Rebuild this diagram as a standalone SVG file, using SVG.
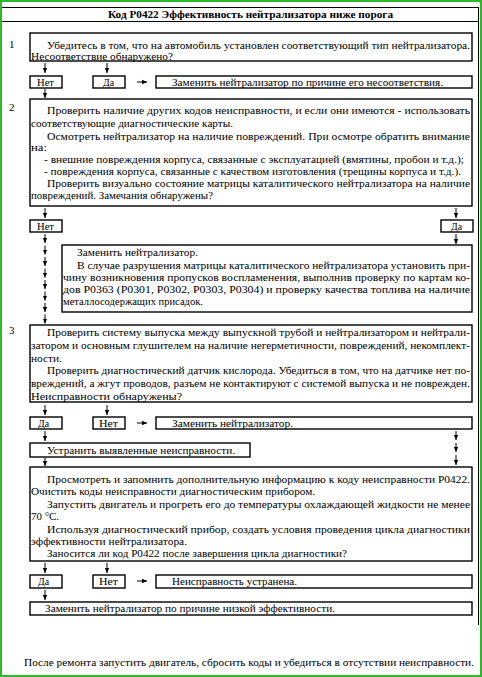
<svg xmlns="http://www.w3.org/2000/svg" width="482" height="677" viewBox="0 0 482 677">
<style>
text{font-family:"Liberation Serif","Times New Roman",serif;font-size:11px;fill:#000}
.b{font-weight:bold}
.box{fill:#fff;stroke:#000;stroke-width:1.4}
.ar{stroke:#000;stroke-width:1;fill:none;marker-end:url(#ah)}
.fr{stroke:#000;stroke-width:1;fill:none}
</style>
<defs>
<marker id="ah" markerWidth="6" markerHeight="6" refX="5" refY="3" orient="auto" markerUnits="userSpaceOnUse">
<path d="M0,0.8 L5,3 L0,5.2 Z" fill="#000"/>
</marker>
</defs>
<rect x="0" y="0" width="482" height="677" fill="#fff"/>
<g id="frame">
<rect x="1" y="1" width="480" height="675" fill="none" stroke="#2eb82e" stroke-width="2"/>
<line class="fr" x1="2" y1="7.5" x2="478" y2="7.5"/>
<line class="fr" x1="2" y1="21.5" x2="478" y2="21.5"/>
<line class="fr" x1="478.5" y1="7" x2="478.5" y2="625"/>
<text class="b" x="108" y="18" textLength="285" lengthAdjust="spacingAndGlyphs">Код P0422 Эффективность нейтрализатора ниже порога</text>
<text x="9" y="48">1</text>
<text x="9" y="111">2</text>
<text x="9" y="334">3</text>
</g>
<g id="connectors">
<line class="ar" x1="45" y1="63" x2="45" y2="73"/>
<line class="ar" x1="107" y1="63" x2="107" y2="73"/>
<line class="ar" x1="137" y1="82" x2="147" y2="82"/>
<line class="ar" x1="45" y1="89" x2="45" y2="98"/>
<line class="ar" x1="45" y1="208" x2="45" y2="218"/>
<line class="ar" x1="456" y1="208" x2="456" y2="218"/>
<line class="ar" x1="456" y1="234" x2="456" y2="244"/>
<line class="ar" x1="45" y1="234" x2="45" y2="243"/>
<line class="ar" x1="45" y1="245.5" x2="45" y2="254.5"/>
<line class="ar" x1="45" y1="257" x2="45" y2="266"/>
<line class="ar" x1="45" y1="268.5" x2="45" y2="277.5"/>
<line class="ar" x1="45" y1="280" x2="45" y2="289"/>
<line class="ar" x1="45" y1="291.5" x2="45" y2="300.5"/>
<line class="ar" x1="45" y1="303" x2="45" y2="312"/>
<line class="ar" x1="45" y1="314.5" x2="45" y2="323.5"/>
<line class="ar" x1="45" y1="405" x2="45" y2="415"/>
<line class="ar" x1="107" y1="405" x2="107" y2="415"/>
<line class="ar" x1="137" y1="423" x2="147" y2="423"/>
<line class="ar" x1="45" y1="431" x2="45" y2="441"/>
<line class="ar" x1="456" y1="431" x2="456" y2="440"/>
<line class="ar" x1="456" y1="443" x2="456" y2="452"/>
<line class="ar" x1="456" y1="455" x2="456" y2="465"/>
<line class="ar" x1="45" y1="458" x2="45" y2="466"/>
<line class="ar" x1="45" y1="563" x2="45" y2="573"/>
<line class="ar" x1="107" y1="563" x2="107" y2="573"/>
<line class="ar" x1="137" y1="581" x2="147" y2="581"/>
<line class="ar" x1="45" y1="590" x2="45" y2="600"/>
</g>
<g id="step1">
<rect class="box" x="30" y="33" width="442" height="28"/>
<text x="47" y="49" textLength="423" lengthAdjust="spacingAndGlyphs">Убедитесь в том, что на автомобиль установлен соответствующий тип нейтрализатора.</text>
<text x="31" y="59.5" textLength="142" lengthAdjust="spacingAndGlyphs">Несоответствие обнаружено?</text>
</g>
<g id="s1-no"><rect class="box" x="30" y="76" width="32" height="12"/><text x="37" y="85.5" textLength="17" lengthAdjust="spacingAndGlyphs">Нет</text></g>
<g id="s1-yes"><rect class="box" x="93" y="76" width="32" height="12"/><text x="103" y="85.5" textLength="11" lengthAdjust="spacingAndGlyphs">Да</text></g>
<g id="s1-replace"><rect class="box" x="156" y="76" width="316" height="12"/><text x="172" y="85.5" textLength="271" lengthAdjust="spacingAndGlyphs">Заменить нейтрализатор по причине его несоответствия.</text></g>
<g id="step2">
<rect class="box" x="30" y="99" width="442" height="107"/>
<text x="47" y="114" textLength="423" lengthAdjust="spacingAndGlyphs">Проверить наличие других кодов неисправности, и если они имеются - использовать</text>
<text x="31" y="127" textLength="202" lengthAdjust="spacingAndGlyphs">соответствующие диагностические карты.</text>
<text x="47" y="139.5" textLength="423" lengthAdjust="spacingAndGlyphs">Осмотреть нейтрализатор на наличие повреждений. При осмотре обратить внимание</text>
<text x="31" y="151" textLength="16" lengthAdjust="spacingAndGlyphs">на:</text>
<text x="44" y="163" textLength="420" lengthAdjust="spacingAndGlyphs">- внешние повреждения корпуса, связанные с эксплуатацией (вмятины, пробои и т.д.);</text>
<text x="44" y="175" textLength="417" lengthAdjust="spacingAndGlyphs">- повреждения корпуса, связанные с качеством изготовления (трещины корпуса и т.д.).</text>
<text x="47" y="187" textLength="423" lengthAdjust="spacingAndGlyphs">Проверить визуально состояние матрицы каталитического нейтрализатора на наличие</text>
<text x="31" y="198.5" textLength="182" lengthAdjust="spacingAndGlyphs">повреждений. Замечания обнаружены?</text>
</g>
<g id="s2-no"><rect class="box" x="30" y="220" width="32" height="12"/><text x="37" y="229.5" textLength="17" lengthAdjust="spacingAndGlyphs">Нет</text></g>
<g id="s2-yes"><rect class="box" x="441" y="220" width="32" height="12"/><text x="451" y="229.5" textLength="11" lengthAdjust="spacingAndGlyphs">Да</text></g>
<g id="s2-replace">
<rect class="box" x="62" y="245" width="410" height="67"/>
<text x="77" y="255.5" textLength="121" lengthAdjust="spacingAndGlyphs">Заменить нейтрализатор.</text>
<text x="77" y="269" textLength="393" lengthAdjust="spacingAndGlyphs">В случае разрушения матрицы каталитического нейтрализатора установить при-</text>
<text x="63" y="281" textLength="407" lengthAdjust="spacingAndGlyphs">чину возникновения пропусков воспламенения, выполнив проверку по картам ко-</text>
<text x="63" y="292.5" textLength="407" lengthAdjust="spacingAndGlyphs">дов P0363 (P0301, P0302, P0303, P0304) и проверку качества топлива на наличие</text>
<text x="63" y="304.5" textLength="140" lengthAdjust="spacingAndGlyphs">металлосодержащих присадок.</text>
</g>
<g id="step3">
<rect class="box" x="30" y="325" width="442" height="77"/>
<text x="47" y="336" textLength="423" lengthAdjust="spacingAndGlyphs">Проверить систему выпуска между выпускной трубой и нейтрализатором и нейтрали-</text>
<text x="31" y="349" textLength="439" lengthAdjust="spacingAndGlyphs">затором и основным глушителем на наличие негерметичности, повреждений, некомплект-</text>
<text x="31" y="361.5" textLength="31" lengthAdjust="spacingAndGlyphs">ности.</text>
<text x="47" y="374" textLength="423" lengthAdjust="spacingAndGlyphs">Проверить диагностический датчик кислорода. Убедиться в том, что на датчике нет по-</text>
<text x="31" y="387" textLength="439" lengthAdjust="spacingAndGlyphs">вреждений, а жгут проводов, разъем не контактируют с системой выпуска и не поврежден.</text>
<text x="31" y="399.5" textLength="151" lengthAdjust="spacingAndGlyphs">Неисправности обнаружены?</text>
</g>
<g id="s3-yes"><rect class="box" x="30" y="417" width="32" height="12"/><text x="38" y="426.5" textLength="11" lengthAdjust="spacingAndGlyphs">Да</text></g>
<g id="s3-no"><rect class="box" x="93" y="417" width="32" height="12"/><text x="99" y="426.5" textLength="19" lengthAdjust="spacingAndGlyphs">Нет</text></g>
<g id="s3-replace"><rect class="box" x="156" y="417" width="316" height="12"/><text x="172" y="426.5" textLength="121" lengthAdjust="spacingAndGlyphs">Заменить нейтрализатор.</text></g>
<g id="s3-fix"><rect class="box" x="30" y="443" width="220" height="14"/><text x="47" y="453.5" textLength="188" lengthAdjust="spacingAndGlyphs">Устранить выявленные неисправности.</text></g>
<g id="step4">
<rect class="box" x="30" y="467" width="442" height="94"/>
<text x="47" y="483" textLength="423" lengthAdjust="spacingAndGlyphs">Просмотреть и запомнить дополнительную информацию к коду неисправности P0422.</text>
<text x="31" y="495" textLength="284" lengthAdjust="spacingAndGlyphs">Очистить коды неисправности диагностическим прибором.</text>
<text x="47" y="508" textLength="423" lengthAdjust="spacingAndGlyphs">Запустить двигатель и прогреть его до температуры охлаждающей жидкости не менее</text>
<text x="31" y="520" textLength="28" lengthAdjust="spacingAndGlyphs">70 °C.</text>
<text x="47" y="532.5" textLength="423" lengthAdjust="spacingAndGlyphs">Используя диагностический прибор, создать условия проведения цикла диагностики</text>
<text x="31" y="545" textLength="156" lengthAdjust="spacingAndGlyphs">эффективности нейтрализатора.</text>
<text x="47" y="556.5" textLength="300" lengthAdjust="spacingAndGlyphs">Заносится ли код P0422 после завершения цикла диагностики?</text>
</g>
<g id="s4-yes"><rect class="box" x="30" y="575" width="32" height="13"/><text x="38" y="585" textLength="11" lengthAdjust="spacingAndGlyphs">Да</text></g>
<g id="s4-no"><rect class="box" x="93" y="575" width="32" height="13"/><text x="99" y="585" textLength="19" lengthAdjust="spacingAndGlyphs">Нет</text></g>
<g id="s4-ok"><rect class="box" x="156" y="575" width="316" height="13"/><text x="172" y="585" textLength="125" lengthAdjust="spacingAndGlyphs">Неисправность устранена.</text></g>
<g id="s4-replace"><rect class="box" x="30" y="602" width="442" height="13"/><text x="45" y="612" textLength="290" lengthAdjust="spacingAndGlyphs">Заменить нейтрализатор по причине низкой эффективности.</text></g>
<g id="footer">
<text x="24" y="665.5" textLength="450" lengthAdjust="spacingAndGlyphs">После ремонта запустить двигатель, сбросить коды и убедиться в отсутствии неисправности.</text>
</g>
</svg>
